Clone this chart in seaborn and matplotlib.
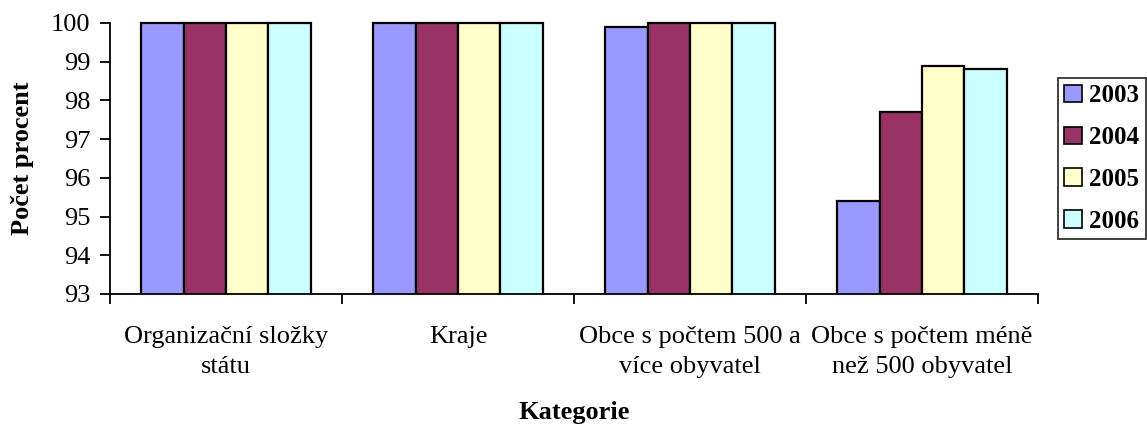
import matplotlib
matplotlib.use("Agg")
import matplotlib.pyplot as plt
import seaborn as sns
import pandas as pd
import numpy as np
from matplotlib.patches import Patch
from matplotlib.transforms import Bbox, TransformedBbox

categories = ["Organizační složky\nstátu", "Kraje", "Obce s počtem 500 a\nvíce obyvatel", "Obce s počtem méně\nnež 500 obyvatel"]
years = ["2003", "2004", "2005", "2006"]
v2003 = [100, 100, 99.9, 95.4]
v2004 = [100, 100, 100, 97.7]
v2005 = [100, 100, 100, 98.9]
v2006 = [100, 100, 100, 98.8]
colors = ["#9999FF", "#993366", "#FFFFCC", "#CCFFFF"]

rows = []
for y, vals in zip(years, [v2003, v2004, v2005, v2006]):
    for c, v in zip(categories, vals):
        rows.append({"Kategorie": c, "Rok": y, "Hodnota": v})
df = pd.DataFrame(rows)

sns.set_style("white")
plt.rcParams['font.family'] = ['Liberation Serif', 'DejaVu Serif']
for k in ['text.color', 'axes.labelcolor', 'xtick.color', 'ytick.color']:
    plt.rcParams[k] = 'black'

FS = 19
fig = plt.figure(figsize=(11.47, 4.25), dpi=100)
ax = fig.add_axes([110/1147, 1-294/425, (1038-110)/1147, (294-23)/425])

sns.barplot(data=df, x="Kategorie", y="Hodnota", hue="Rok", order=categories,
            hue_order=years, palette=colors, width=0.73, edgecolor="black",
            linewidth=1.6, saturation=1, ax=ax, legend=False)
clip = TransformedBbox(Bbox([[0, 0], [1, 1.05]]), ax.transAxes)
for p in ax.patches:
    p.set_clip_box(clip)
    p.set_clip_on(True)

ax.set_ylim(93, 100)
ax.set_xlim(-0.5, 3.5)
ax.set_yticks(np.arange(93, 101, 1))
ax.tick_params(axis='y', labelsize=FS, length=7, width=1.3, direction='out', left=True, pad=7,
               colors='black')
ax.set_xticks(range(4))
ax.set_xticklabels(categories, fontsize=FS, linespacing=1.5)
ax.set_xticks(np.arange(-0.5, 4, 1), minor=True)
ax.tick_params(axis='x', which='major', length=0, pad=23, colors='black')
ax.tick_params(axis='x', which='minor', length=7, width=1.3, direction='out', bottom=True, colors='black')

for s in ['top', 'right']:
    ax.spines[s].set_visible(False)
for s in ['left', 'bottom']:
    ax.spines[s].set_linewidth(1.3)
    ax.spines[s].set_color('black')

ax.set_ylabel("Počet procent", fontsize=FS, fontweight='bold', color='black')
ax.yaxis.set_label_coords((23 - 110) / 928, 0.5)
ax.yaxis.label.set_va('center')
ax.set_xlabel("Kategorie", fontsize=FS, fontweight='bold', color='black')
ax.xaxis.set_label_coords(0.5, (294 - 412) / 271)
ax.xaxis.label.set_va('center')

handles = [Patch(facecolor=c, edgecolor='black', linewidth=1.2) for c in colors]
leg = fig.legend(handles, years, loc='upper left', bbox_to_anchor=(1058/1147, 1-78/425),
                 prop={'weight': 'bold', 'size': 18}, frameon=True, fancybox=False,
                 edgecolor='black', handlelength=0.7, handleheight=0.7, handletextpad=0.3,
                 labelspacing=0.75, borderpad=0.25, borderaxespad=0)
leg.get_frame().set_linewidth(1.3)
for t in leg.get_texts():
    t.set_color('black')

fig.savefig("out.png", dpi=100)
